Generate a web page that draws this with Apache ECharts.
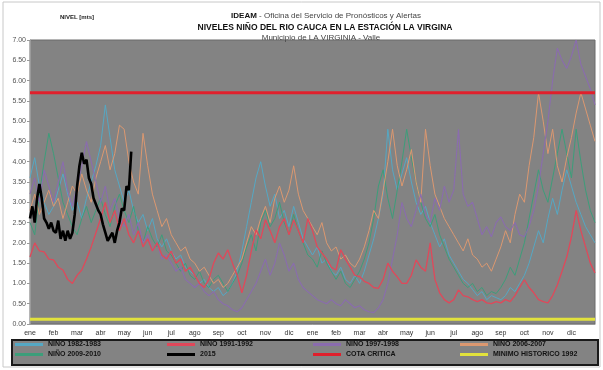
<!DOCTYPE html>
<html>
<head>
<meta charset="utf-8">
<script src="https://cdn.jsdelivr.net/npm/echarts@6/dist/echarts.min.js"></script>
<style>
  html, body { margin: 0; padding: 0; background: #ffffff; }
  #chart { width: 603px; height: 370px; }
</style>
</head>
<body>
<div id="chart"></div>
<script>
// Month labels for the two-year window
const monthNames = ['ene', 'feb', 'mar', 'abr', 'may', 'jun', 'jul', 'ago', 'sep', 'oct', 'nov', 'dic'];
const xLabels = monthNames.concat(monthNames);

// Y tick labels (m)
const yTicks = [0, 0.5, 1, 1.5, 2, 2.5, 3, 3.5, 4, 4.5, 5, 5.5, 6, 6.5, 7];

// Levels (m), five readings per month over two years
const nino1982 = [
  3.6, 4.1, 3.4, 3.0, 2.7,  2.9, 3.3, 3.7, 3.2, 2.8,  3.0, 2.6, 3.1, 3.5, 3.9,  4.4, 5.4, 4.6, 3.8, 3.4,
  3.0, 3.3, 2.8, 2.5, 2.7,  2.3, 2.6, 2.1, 1.9, 2.1,  1.8, 1.6, 1.7, 1.4, 1.3,  1.2, 1.0, 1.1, 0.9, 0.8,
  0.9, 0.7, 0.8, 1.0, 1.3,  1.8, 2.4, 3.0, 3.6, 4.0,  3.4, 2.9, 3.2, 2.6, 2.8,  2.4, 2.9, 2.5, 2.1, 1.9,
  1.7, 1.9, 1.5, 1.6, 1.3,  1.2, 1.4, 1.1, 1.0, 1.2,  1.0, 1.3, 1.7, 2.1, 2.6,  3.2, 4.8, 3.8, 3.3, 3.7,
  4.1, 3.5, 3.0, 2.7, 2.9,  2.5, 2.2, 1.9, 2.1, 1.7,  1.5, 1.3, 1.1, 1.0, 0.85, 0.7, 0.8, 0.6, 0.7, 0.65,
  0.6, 0.7, 0.9, 0.8, 1.0,  1.2, 1.5, 1.9, 2.3, 2.0,  2.6, 3.1, 2.7, 3.3, 3.8,  3.4, 3.0, 2.7, 2.4, 2.2,
  2.0
];
const nino1991 = [
  1.65, 2.0, 1.8, 1.78, 1.6,  1.58, 1.4, 1.33, 1.1, 1.0,  1.2, 1.33, 1.6, 1.9, 2.25,  2.6, 3.0, 2.5, 2.8, 2.3,
  2.6, 2.2, 2.0, 2.3, 1.9,  2.1, 1.8, 2.0, 1.7, 1.6,  1.8, 1.5, 1.6, 1.3, 1.4,  1.2, 1.0, 0.9, 1.1, 1.5,
  1.75, 1.6, 1.83, 1.5, 1.2,  0.77, 1.2, 1.8, 2.32, 2.1,  2.57, 2.3, 2.0, 2.4, 2.6,  2.2, 2.57, 2.3, 2.0, 2.6,
  2.3, 1.9, 1.75, 1.6, 1.4,  1.33, 1.83, 1.6, 1.4, 1.2,  1.17, 1.05, 1.0, 0.9, 0.88,  1.1, 1.5, 1.3, 1.16, 1.0,
  1.0, 1.2, 1.58, 1.4, 1.3,  2.0, 1.1, 0.77, 0.6, 0.52,  0.6, 0.84, 0.7, 0.67, 0.6,  0.55, 0.6, 0.52, 0.5, 0.55,
  0.52, 0.6, 0.55, 0.7, 0.9,  1.09, 0.9, 0.77, 0.6, 0.55,  0.52, 0.7, 0.96, 1.3, 1.65,  2.15, 2.8, 2.3, 1.9, 1.5,
  1.26
];
const nino1997 = [
  3.2, 3.6, 3.0, 3.8, 3.4,  3.0, 3.5, 4.0, 3.3, 2.9,  3.4, 3.9, 4.5, 4.0, 3.5,  3.0, 3.4, 2.8, 3.1, 2.6,
  2.4, 2.7, 2.2, 2.5, 2.0,  2.2, 1.8, 2.0, 1.6, 1.7,  1.5, 1.3, 1.4, 1.1, 1.0,  0.9, 1.0, 0.8, 0.7, 0.8,
  0.6, 0.5, 0.45, 0.35, 0.3,  0.4, 0.6, 0.8, 1.0, 1.3,  1.6, 1.2, 1.5, 2.0, 1.7,  1.3, 1.5, 1.1, 0.9, 0.8,
  0.7, 0.6, 0.55, 0.5, 0.6,  0.5, 0.45, 0.6, 0.5, 0.4,  0.45, 0.35, 0.3, 0.28, 0.4,  0.6, 1.0, 1.6, 2.2, 3.0,
  2.6, 2.4, 2.8, 3.2, 2.7,  2.5, 3.1, 2.8, 3.4, 3.0,  3.3, 4.8, 3.2, 2.9, 3.0,  2.6, 2.2, 2.4, 2.15, 2.5,
  2.64, 2.4, 2.3, 2.5, 2.2,  2.15, 2.4, 2.8, 3.4, 4.2,  5.0, 6.0, 6.8, 6.5, 6.3,  6.6, 7.0, 6.4, 6.1, 5.8,
  5.4
];
const nino2006 = [
  2.8, 3.2, 2.7, 3.0, 3.3,  2.9, 3.1, 2.6, 3.0, 3.4,  3.2, 3.7, 3.3, 3.0, 3.6,  4.0, 4.4, 3.8, 4.2, 4.9,
  4.8, 4.0, 3.5, 3.2, 4.7,  3.9, 3.2, 2.8, 2.4, 2.6,  2.2, 2.0, 1.8, 1.9, 1.6,  1.5, 1.3, 1.4, 1.2, 1.0,
  1.1, 0.9, 1.0, 1.2, 1.4,  1.6, 2.0, 2.4, 2.2, 2.6,  2.9, 2.5, 3.1, 3.4, 3.0,  3.3, 3.9, 3.2, 2.8, 2.6,
  2.4, 2.2, 2.5, 2.0, 1.8,  1.9, 1.6, 1.7, 1.5, 1.4,  1.6, 1.9, 2.3, 2.8, 2.6,  3.3, 4.0, 4.8, 3.9, 3.4,
  3.8, 4.3, 3.5, 3.0, 4.8,  3.9, 3.2, 2.9, 2.6, 2.4,  2.2, 2.0, 1.8, 2.1, 1.7,  1.6, 1.4, 1.5, 1.3, 1.6,
  1.9, 2.3, 2.0, 2.7, 3.2,  3.0, 3.9, 4.6, 5.7, 5.0,  4.2, 4.8, 3.9, 3.5, 4.1,  4.6, 5.2, 5.7, 5.3, 4.9,
  4.5
];
const nino2009 = [
  2.5, 2.2, 3.2, 4.0, 4.7,  4.2, 3.6, 3.0, 2.7, 2.4,  2.2, 2.6, 2.9, 2.5, 2.8,  3.1, 2.7, 2.4, 2.9, 3.2,
  2.8, 2.5, 2.9, 2.3, 2.0,  2.4, 2.1, 1.9, 2.2, 1.8,  1.7, 1.5, 1.3, 1.5, 1.2,  1.1, 1.3, 1.0, 0.9, 1.1,
  1.2, 1.0, 0.8, 1.0, 1.2,  1.5, 1.9, 2.2, 1.8, 2.5,  2.8, 2.4, 2.6, 3.0, 2.5,  2.2, 2.7, 2.3, 2.0, 1.7,
  1.6, 1.4, 1.8, 1.5, 1.3,  1.1, 1.3, 1.0, 0.9, 1.1,  1.3, 1.6, 2.0, 2.6, 3.4,  3.8, 3.1, 2.6, 3.3, 4.0,
  4.8, 4.1, 3.5, 3.0, 2.6,  2.4, 2.7, 2.2, 1.9, 1.6,  1.4, 1.2, 1.0, 0.9, 1.0,  0.8, 0.9, 0.7, 0.8, 0.75,
  0.9, 1.1, 1.4, 1.2, 1.6,  2.0, 2.6, 3.2, 3.8, 3.3,  3.0, 3.6, 4.2, 4.8, 4.2,  3.6, 4.8, 4.0, 3.3, 2.8,
  2.5
];
// 2015 levels, ten readings per month (January to early May)
const serie2015 = [
  2.6, 2.9, 2.5, 3.1, 3.45, 3.1, 2.6, 2.5, 2.35, 2.5,
  2.3, 2.25, 2.55, 2.1, 2.3, 2.05, 2.3, 2.1, 2.25, 2.7,
  3.4, 3.9, 4.22, 3.95, 4.05, 3.6, 3.45, 3.1, 2.95, 2.8,
  2.7, 2.45, 2.25, 2.05, 2.15, 2.25, 2.0, 2.3, 2.5, 2.85,
  2.8, 3.4, 3.3, 4.25
];
const cotaCritica = 5.70;
const minimoHistorico = 0.12;

function toPairs(values, perMonth) {
  return values.map((v, i) => [i / perMonth, v]);
}
function flat(level) {
  return [[0, level], [24, level]];
}

const chart = echarts.init(document.getElementById('chart'), null, { renderer: 'canvas' });

const lineBase = { type: 'line', showSymbol: false, symbol: 'none', animation: false, silent: true };
const legendText = { fontSize: 7, fontWeight: 'bold', color: '#111', fontFamily: 'Liberation Sans' };
const legendCommon = {
  orient: 'vertical', top: 341, itemWidth: 28, itemHeight: 3, itemGap: 3, icon: 'rect',
  padding: 0, textStyle: legendText, selectedMode: false
};

chart.setOption({
  backgroundColor: '#ffffff',
  animation: false,
  textStyle: { fontFamily: 'Liberation Sans' },
  title: [
    {
      text: '{b|IDEAM} - Oficina del Servicio de Pronósticos y Alertas',
      left: 321, top: 7, textAlign: 'center',
      textStyle: { fontSize: 8, fontWeight: 'normal', color: '#444',
        rich: { b: { fontSize: 8, fontWeight: 'bold', color: '#111' } } }
    },
    {
      text: 'NIVELES NIÑO DEL RIO CAUCA EN LA ESTACIÓN LA VIRGINA',
      left: 320, top: 18, textAlign: 'center',
      textStyle: { fontSize: 8.5, fontWeight: 'bold', color: '#111' }
    },
    {
      text: 'Municipio de LA VIRGINIA - Valle',
      left: 316, top: 29, textAlign: 'center',
      textStyle: { fontSize: 8, fontWeight: 'normal', color: '#444' }
    },
    {
      text: 'NIVEL [mts]',
      left: 55, top: 9,
      textStyle: { fontSize: 6, fontWeight: 'bold', color: '#222' }
    }
  ],
  grid: {
    left: 30, right: 8, top: 40, bottom: 46,
    show: true, backgroundColor: '#838383', borderColor: '#6a6a6a', borderWidth: 1
  },
  xAxis: {
    type: 'value', min: 0, max: 24, interval: 1,
    axisLine: { show: true, lineStyle: { color: '#9a9a9a' } },
    axisTick: { show: false },
    splitLine: { show: false },
    axisLabel: {
      fontSize: 7, color: '#333', margin: 6,
      formatter: v => xLabels[v] || ''
    }
  },
  yAxis: {
    type: 'value', min: yTicks[0], max: yTicks[yTicks.length - 1], interval: 0.5,
    axisLine: { show: true, lineStyle: { color: '#9a9a9a' } },
    axisTick: { show: true, length: 3, lineStyle: { color: '#9a9a9a' } },
    splitLine: { show: false },
    axisLabel: { fontSize: 7, color: '#555', margin: 4, formatter: v => v.toFixed(2) }
  },
  legend: [
    Object.assign({ left: 15, data: ['NIÑO 1982-1983', 'NIÑO 2009-2010'] }, legendCommon),
    Object.assign({ left: 167, data: ['NIÑO 1991-1992', '2015'] }, legendCommon),
    Object.assign({ left: 313, data: ['NIÑO 1997-1998', 'COTA CRITICA'] }, legendCommon),
    Object.assign({ left: 460, data: ['NIÑO 2006-2007', 'MINIMO HISTORICO 1992'] }, legendCommon)
  ],
  graphic: [
    { type: 'rect', z: -10, shape: { x: 3, y: 2, width: 597, height: 365 },
      style: { fill: 'none', stroke: '#c8c8c8', lineWidth: 1 } },
    { type: 'rect', z: -5, shape: { x: 12, y: 340, width: 586, height: 25 },
      style: { fill: '#838383', stroke: '#1a1a1a', lineWidth: 2 } }
  ],
  series: [
    Object.assign({ name: 'NIÑO 1982-1983', data: toPairs(nino1982, 5), z: 2,
      lineStyle: { width: 1, color: '#55a8c4' }, itemStyle: { color: '#55a8c4' } }, lineBase),
    Object.assign({ name: 'NIÑO 2009-2010', data: toPairs(nino2009, 5), z: 2,
      lineStyle: { width: 1, color: '#3c9e7a' }, itemStyle: { color: '#3c9e7a' } }, lineBase),
    Object.assign({ name: 'NIÑO 2006-2007', data: toPairs(nino2006, 5), z: 2,
      lineStyle: { width: 1, color: '#dc9870' }, itemStyle: { color: '#dc9870' } }, lineBase),
    Object.assign({ name: 'NIÑO 1997-1998', data: toPairs(nino1997, 5), z: 3,
      lineStyle: { width: 1.1, color: '#8a6cae' }, itemStyle: { color: '#8a6cae' } }, lineBase),
    Object.assign({ name: 'NIÑO 1991-1992', data: toPairs(nino1991, 5), z: 3,
      lineStyle: { width: 1.3, color: '#e0485a' }, itemStyle: { color: '#e0485a' } }, lineBase),
    Object.assign({ name: 'COTA CRITICA', data: flat(cotaCritica), z: 4,
      lineStyle: { width: 3, color: '#e0202c' }, itemStyle: { color: '#e0202c' } }, lineBase),
    Object.assign({ name: 'MINIMO HISTORICO 1992', data: flat(minimoHistorico), z: 4,
      lineStyle: { width: 3, color: '#e2e23c' }, itemStyle: { color: '#e2e23c' } }, lineBase),
    Object.assign({ name: '2015', data: toPairs(serie2015, 10), z: 5,
      lineStyle: { width: 2.6, color: '#000000' }, itemStyle: { color: '#000000' } }, lineBase)
  ]
});
</script>
</body>
</html>
